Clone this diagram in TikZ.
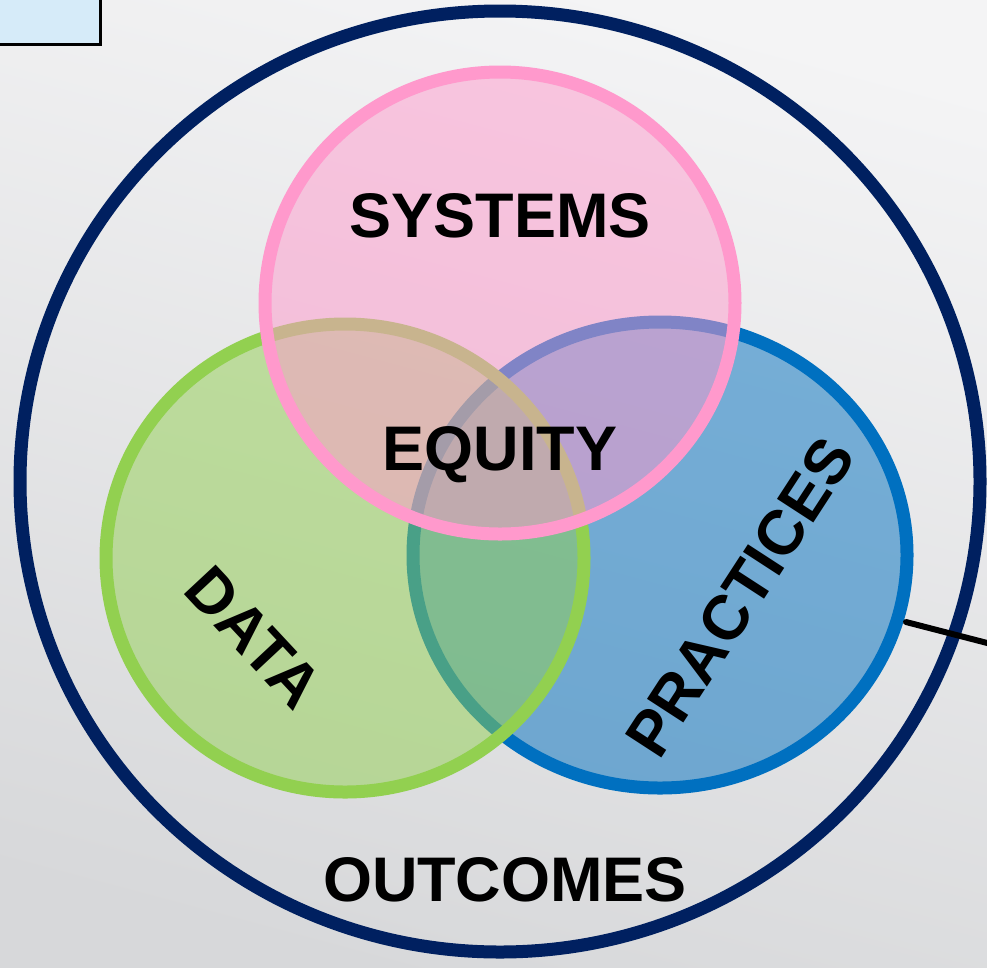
\documentclass[tikz,border=0pt]{standalone}
\usepackage{fontspec}
\setmainfont{Liberation Sans}
\definecolor{navy}{RGB}{0,32,96}
\definecolor{pinkline}{RGB}{255,153,204}
\definecolor{greenline}{RGB}{146,208,80}
\definecolor{blueline}{RGB}{0,112,192}
\definecolor{boxblue}{RGB}{214,235,249}
\tikzset{
  ring/.style={line width=13pt},
  label/.style={font=\fontsize{63}{70}\selectfont\bfseries, inner sep=0pt}
}
\begin{document}
\begin{tikzpicture}[x=1pt,y=-1pt]
\useasboundingbox (0,0) rectangle (987,967);
\shade[top color={rgb,255:red,244;green,244;blue,245}, bottom color={rgb,255:red,215;green,216;blue,218}, shading angle=-15] (-20,-20) rectangle (1007,987);
% corner box
\draw[fill=boxblue, line width=3pt] (-20,-20) rectangle (100,44);
% centres
\coordinate (O) at (500,481.5);
\coordinate (S) at (500,303);
\coordinate (D) at (345,558);
\coordinate (P) at (660,555);
\draw[navy, ring] (O) ellipse [x radius=480, y radius=470.5];
\draw[blueline, ring, fill=blueline, fill opacity=0.5] (P) ellipse [x radius=247, y radius=233];
\draw[greenline, ring, fill=greenline, fill opacity=0.5] (D) ellipse [x radius=239, y radius=234];
\draw[pinkline, ring, fill=pinkline, fill opacity=0.5] (S) ellipse [x radius=235, y radius=231];
% tick
\coordinate (tick) at (906,622);
\coordinate (tickend) at (995,645);
\draw[line width=6pt, line cap=round] (tick) -- (tickend);
% texts
\node[label] (systems) at (500,216) {SYSTEMS};
\node[label] (equity) at (500,455) {EQUITY};
\node[label, rotate=-47] (data) at (254,637) {DATA};
\node[label, rotate=57] (practices) at (740,597) {PRACTICES};
\node[label] (outcomes) at (505,880) {OUTCOMES};
\end{tikzpicture}
\end{document}
